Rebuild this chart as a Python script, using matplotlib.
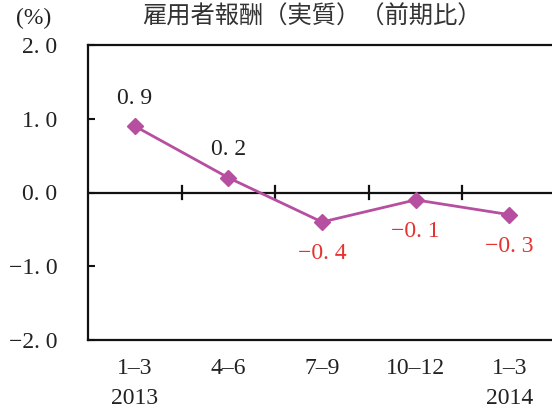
import matplotlib.pyplot as plt

# Quarterly change in real compensation of employees (% q/q)
quarters = ["1–3\n2013", "4–6", "7–9", "10–12", "1–3\n2014"]
values = [0.9, 0.2, -0.4, -0.1, -0.3]
y_ticks = [-2.0, -1.0, 0.0, 1.0, 2.0]

LINE_COLOR = "#B64FA0"
NEG_COLOR = "#E8312F"
TEXT_COLOR = "#222222"
SERIF = ["Liberation Serif", "DejaVu Serif"]
CJK = ["Noto Sans CJK JP", "DejaVu Sans"]
FS = 17


def fmt(v):
    # Japanese-style spacing after the decimal point, true minus sign
    s = f"{abs(v):.1f}".replace(".", ". ")
    return ("−" + s) if v < 0 else s


fig = plt.figure(figsize=(5.52, 4.13), dpi=100)
ax = fig.add_axes([88 / 552, 73 / 413, 468 / 552, 295 / 413])

x = list(range(len(values)))
ax.plot(x, values, color=LINE_COLOR, linewidth=2, marker="D", markersize=8,
        markeredgecolor=LINE_COLOR, zorder=3)

# value labels: positives above in black, negatives below in red
for xi, v in zip(x, values):
    if v >= 0:
        ax.annotate(fmt(v), (xi, v), xytext=(0, 20), textcoords="offset points",
                    ha="center", va="center", fontsize=FS, family=SERIF, color=TEXT_COLOR)
    else:
        ax.annotate(fmt(v), (xi, v), xytext=(0, -23), textcoords="offset points",
                    ha="center", va="center", fontsize=FS, family=SERIF, color=NEG_COLOR)

ax.set_xlim(-0.5, len(values) - 0.5)
ax.set_ylim(-2.0, 2.0)

# zero line with category separators crossing it
ax.axhline(0, color="#111111", linewidth=1.6, zorder=2)
for b in [i + 0.5 for i in range(len(values) - 1)]:
    ax.plot([b, b], [-0.09, 0.09], color="#111111", linewidth=1.6, zorder=2)

ax.set_yticks(y_ticks)
ax.set_yticklabels([fmt(t) for t in y_ticks], family=SERIF, fontsize=FS, color=TEXT_COLOR)
ax.tick_params(axis="y", direction="in", length=5, width=1.5, pad=22, color="#111111")

ax.set_xticks(x)
ax.set_xticklabels(quarters, family=SERIF, fontsize=FS, color=TEXT_COLOR, linespacing=1.55)
ax.tick_params(axis="x", length=0, pad=13)
for lab in ax.get_xticklabels():
    lab.set_verticalalignment("top")

for side in ["left", "top", "bottom", "right"]:
    ax.spines[side].set_linewidth(1.6)
    ax.spines[side].set_color("#111111")

fig.text(16 / 552, 1 - 18 / 413, "(%)", family=SERIF, fontsize=FS, color=TEXT_COLOR,
         ha="left", va="center")
fig.text(312 / 552, 1 - 17 / 413, "雇用者報酬（実質）（前期比）", family=CJK, fontsize=17.5,
         color="#333333", ha="center", va="center")

fig.savefig("out.png", dpi=100)
